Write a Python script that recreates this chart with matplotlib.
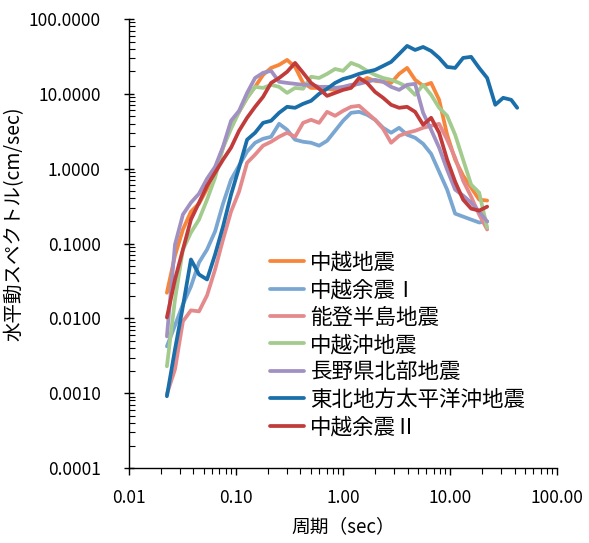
import matplotlib
matplotlib.use("Agg")
import matplotlib.pyplot as plt
from matplotlib.ticker import LogLocator, FormatStrFormatter, NullFormatter

plt.rcParams['font.family'] = ['Noto Sans CJK JP', 'DejaVu Sans']

# period (sec)
periods = [0.0226, 0.0269, 0.0319, 0.0379, 0.0451, 0.0536, 0.0637, 0.0756, 0.0898,
           0.1067, 0.1268, 0.1506, 0.1788, 0.2125, 0.2524, 0.2998, 0.356, 0.423,
           0.5024, 0.5967, 0.7088, 0.8419, 1.0, 1.188, 1.411, 1.676, 1.991, 2.365,
           2.809, 3.337, 3.963, 4.708, 5.592, 6.643, 7.89, 9.372, 11.13, 13.22,
           15.71, 18.66, 22.17, 26.4, 31.3, 37.2, 42.3]

chuetsu = [0.022, 0.069, 0.154, 0.267, 0.341, 0.541, 0.97, 1.91, 3.86, 5.75, 8.85,
           12.4, 17.9, 22.2, 24.4, 28.4, 22.9, 14.0, 12.0, 12.0, 11.7, 11.3, 11.7,
           12.4, 14.0, 16.3, 14.9, 14.5, 14.0, 18.5, 22.2, 15.4, 12.8, 14.0, 8.32,
           2.84, 1.32, 0.807, 0.558, 0.386, 0.375]
yoshin1 = [0.00423, 0.00807, 0.0154, 0.0267, 0.0558, 0.0832, 0.145, 0.341, 0.714,
           1.10, 1.69, 2.22, 2.51, 2.67, 3.98, 3.31, 2.44, 2.29, 2.22, 2.03, 2.36,
           3.21, 4.37, 5.58, 5.75, 5.25, 4.50, 3.52, 3.02, 3.52, 2.84, 2.59, 2.15,
           1.58, 0.912, 0.525, 0.251, 0.229, 0.209, 0.191, 0.197]
noto = [0.00097, 0.00209, 0.00912, 0.0128, 0.0124, 0.0203, 0.045, 0.113, 0.267,
        0.494, 1.20, 1.54, 2.03, 2.29, 2.67, 3.02, 2.67, 4.10, 4.50, 4.10, 5.75,
        5.09, 5.93, 6.71, 6.92, 5.58, 4.50, 3.41, 2.22, 2.75, 3.02, 3.21, 3.52,
        3.74, 3.98, 2.44, 1.40, 0.692, 0.423, 0.244, 0.154]
chuetsu_oki = [0.00229, 0.0179, 0.0832, 0.140, 0.209, 0.386, 0.759, 1.91, 3.41,
               5.75, 8.85, 12.4, 12.0, 13.2, 12.4, 10.3, 12.0, 11.7, 16.9, 16.3,
               18.5, 21.5, 20.3, 25.9, 23.6, 20.3, 17.9, 16.3, 15.4, 14.0, 12.4,
               9.70, 13.2, 9.70, 6.51, 5.09, 2.84, 1.32, 0.612, 0.479, 0.163]
nagano = [0.00575, 0.097, 0.244, 0.352, 0.464, 0.736, 1.06, 1.97, 4.37, 5.93,
          10.3, 16.3, 19.1, 20.3, 14.5, 14.0, 13.6, 13.2, 13.2, 12.4, 12.4, 12.0,
          12.4, 13.2, 13.6, 14.5, 15.4, 14.5, 12.4, 11.3, 13.2, 13.6, 5.58, 3.31,
          1.91, 0.97, 0.525, 0.437, 0.352, 0.267, 0.197]
tohoku = [0.000912, 0.00386, 0.0145, 0.0612, 0.0386, 0.0331, 0.0713, 0.169, 0.450,
          1.03, 2.44, 3.02, 4.10, 4.37, 5.58, 6.71, 6.51, 7.36, 8.07, 10.0, 11.7,
          14.0, 15.8, 16.9, 18.5, 19.7, 20.9, 23.6, 26.7, 34.1, 43.7, 38.6, 42.3,
          37.4, 30.2, 22.9, 22.2, 30.2, 31.2, 22.2, 16.3, 7.14, 8.85, 8.32, 6.51]
yoshin2 = [0.0103, 0.0331, 0.0832, 0.209, 0.352, 0.593, 0.885, 1.32, 1.91, 3.21,
           4.79, 6.71, 9.12, 14.0, 16.3, 19.7, 25.9, 19.1, 14.0, 11.7, 9.40, 10.3,
           11.3, 12.0, 16.3, 14.0, 10.6, 8.85, 7.14, 6.51, 6.71, 5.75, 3.86, 4.79,
           3.02, 1.32, 0.671, 0.386, 0.293, 0.275, 0.311]

series = [
    ('中越地震', chuetsu, '#F7853A'),
    ('中越余震Ⅰ', yoshin1, '#7AA6D2'),
    ('能登半島地震', noto, '#E58A8C'),
    ('中越沖地震', chuetsu_oki, '#A3CB8E'),
    ('長野県北部地震', nagano, '#A091C2'),
    ('東北地方太平洋沖地震', tohoku, '#1A6FAA'),
    ('中越余震Ⅱ', yoshin2, '#C13B3B'),
]

fig = plt.figure(figsize=(5.89, 5.43), dpi=100)
ax = fig.add_axes([0.219, 0.138, 0.727, 0.827])

for name, vals, col in series:
    ax.plot(periods[:len(vals)], vals, color=col, lw=2.7, label=name,
            solid_joinstyle='round', solid_capstyle='round')

ax.set_xscale('log')
ax.set_yscale('log')
ax.set_xlim(0.01, 100)
ax.set_ylim(0.0001, 100)

ax.xaxis.set_major_locator(LogLocator(base=10, numticks=10))
ax.yaxis.set_major_locator(LogLocator(base=10, numticks=10))
ax.xaxis.set_minor_locator(LogLocator(base=10, subs=range(2, 10), numticks=20))
ax.yaxis.set_minor_locator(LogLocator(base=10, subs=range(2, 10), numticks=20))
ax.xaxis.set_major_formatter(FormatStrFormatter('%.2f'))
ax.yaxis.set_major_formatter(FormatStrFormatter('%.4f'))
ax.xaxis.set_minor_formatter(NullFormatter())
ax.yaxis.set_minor_formatter(NullFormatter())
ax.xaxis.offsetText.set_visible(False)
ax.yaxis.offsetText.set_visible(False)

for s in ['top', 'right']:
    ax.spines[s].set_visible(False)
for s in ['left', 'bottom']:
    ax.spines[s].set_linewidth(1.0)
    ax.spines[s].set_color('black')

ax.tick_params(axis='y', which='major', direction='inout', length=7, width=1,
               pad=17, labelsize=12.5)
ax.tick_params(axis='y', which='minor', direction='in', length=4, width=0.8)
ax.tick_params(axis='x', which='major', direction='out', length=5, width=1,
               pad=10, labelsize=12.5)
ax.tick_params(axis='x', which='minor', direction='out', length=4, width=0.8)

ax.set_ylabel('水平動スペクトル(cm/sec)', fontsize=14)
ax.yaxis.set_label_coords(-0.245, 0.543)
ax.set_xlabel('周期（sec）', fontsize=13.5, labelpad=7)

ax.legend(loc='upper left', bbox_to_anchor=(0.293, 0.515), frameon=False,
          fontsize=15.5, handlelength=1.6, handletextpad=0.3, labelspacing=0.25,
          borderpad=0.2)

fig.savefig('out.png', dpi=100)
